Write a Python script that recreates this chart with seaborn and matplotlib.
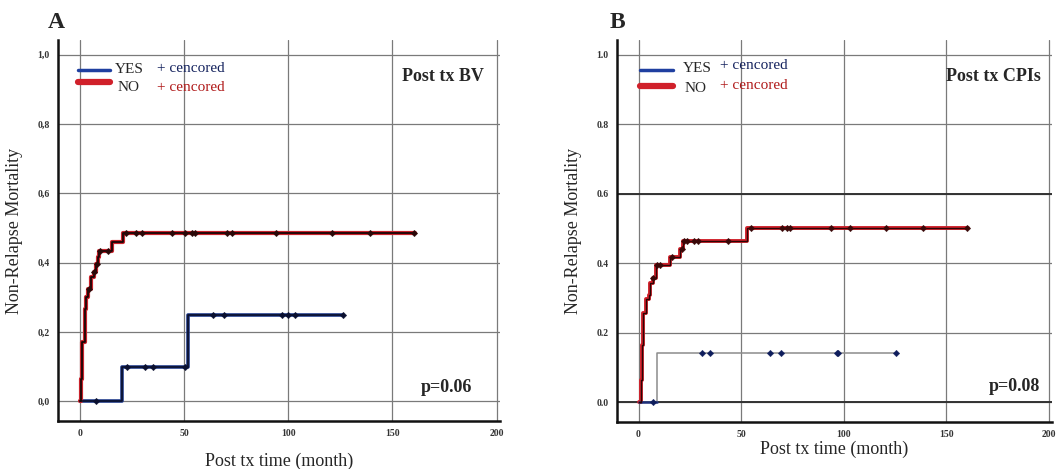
#! /usr/bin/env python
# Non-relapse mortality curves, post tx BV (A) and post tx CPIs (B)
import matplotlib
matplotlib.use('Agg')
from matplotlib import rcParams
import matplotlib.pyplot as plt
import numpy as np
import pandas as pd
import seaborn as sns

sns.set_style("ticks")
rcParams['font.family'] = ['Liberation Serif', 'DejaVu Serif']

# DATA -----------------------------------------------------------------
# panel A, post tx BV
a_no_t = [0, 0.4, 1.2, 2.3, 3.1, 3.9, 5.5, 6.6, 7.9, 8.7, 9.4, 15.2, 20.5, 161]
a_no_y = [0, 0.065, 0.17, 0.267, 0.30, 0.325, 0.358, 0.373, 0.397, 0.416, 0.435, 0.459, 0.486, 0.486]
a_no_cens = [4.3, 6.7, 8.3, 9.6, 13.6, 22, 27, 29.6, 44.3, 50.4, 53.6, 55.2, 70.4, 73, 94, 121, 139, 160.5]
a_yes_t = [0, 20.3, 52, 126.3]
a_yes_y = [0, 0.10, 0.25, 0.25]
a_yes_cens = [7.5, 22.4, 31.2, 35.2, 50.4, 64, 69, 97.2, 99.9, 103.1, 126.3]

# panel B, post tx CPIs
b_no_t = [0, 1.2, 1.6, 2.4, 3.7, 4.9, 5.7, 7.0, 8.6, 15.4, 20.3, 21.9, 52.7, 160.6]
b_no_y = [0, 0.065, 0.164, 0.258, 0.296, 0.31, 0.344, 0.358, 0.395, 0.417, 0.44, 0.464, 0.503, 0.503]
b_no_cens = [7.3, 8.9, 10.5, 16.2, 21, 22.4, 23.5, 27, 29.2, 43.8, 54.8, 69.7, 72.2, 73.8, 94, 103, 120.8, 138.7, 160.2]
b_yes_t = [0, 8.9, 125.7]
b_yes_y = [0, 0.143, 0.143]
b_yes_cens = [7.3, 30.8, 34.9, 64.1, 69.3, 96.5, 97.3, 125.7]

xticks = [0, 50, 100, 150, 200]
yticks = [0.0, 0.2, 0.4, 0.6, 0.8, 1.0]


def step_at(ts, ys, t):
    idx = np.searchsorted(np.array(ts), np.array(t), side='right') - 1
    return np.array(ys)[idx]


def km(ax, ts, ys, cens, under, over, lw_under, lw_over, mcol):
    df = pd.DataFrame({'t': ts, 'y': ys})
    sns.lineplot(data=df, x='t', y='y', ax=ax, color=under, lw=lw_under,
                 drawstyle='steps-post', estimator=None, zorder=3)
    if over is not None:
        sns.lineplot(data=df, x='t', y='y', ax=ax, color=over, lw=lw_over,
                     drawstyle='steps-post', estimator=None, zorder=4)
    cdf = pd.DataFrame({'t': cens, 'y': step_at(ts, ys, cens)})
    sns.scatterplot(data=cdf, x='t', y='y', ax=ax, marker='D', s=11,
                    color=mcol, edgecolor=mcol, zorder=5)


def frame(ax, ylabels, title, ptext, tpos, ppos, xpad, dark_rows=()):
    ax.set_xlim(-10.5, 201.5)
    ax.set_ylim(-0.057, 1.043)
    ax.set_xticks(xticks)
    ax.set_yticks(yticks)
    ax.set_xticklabels([str(v) for v in xticks], fontsize=7, fontweight='bold', color='#333')
    ax.set_yticklabels(ylabels, fontsize=7, fontweight='bold', color='#333')
    ax.tick_params(length=0, pad=6)
    ax.grid(True, color='#7a7a7a', lw=0.9)
    for v in dark_rows:
        ax.axhline(v, color='#333333', lw=1.4, zorder=1)
    for s in ['top', 'right']:
        ax.spines[s].set_visible(False)
    for s in ['left', 'bottom']:
        ax.spines[s].set_linewidth(1.8)
        ax.spines[s].set_color('#111')
    ax.set_xlabel('Post tx time (month)', fontsize=13, labelpad=xpad)
    ax.set_ylabel('Non-Relapse Mortality', fontsize=13, labelpad=10)
    ax.text(tpos[0], tpos[1], title, transform=ax.transAxes, fontsize=13,
            fontweight='bold', ha='right', va='center')
    ax.text(ppos[0], ppos[1], ptext, transform=ax.transAxes, fontsize=13,
            fontweight='bold', ha='right', va='center')


fig = plt.figure(figsize=(10.61, 4.69), dpi=100)
axA = fig.add_axes([0.0547, 0.102, 0.4163, 0.813])
axB = fig.add_axes([0.5815, 0.100, 0.410, 0.815])

# panel A
km(axA, a_yes_t, a_yes_y, a_yes_cens, '#1f3a8a', '#0a0f2a', 2.6, 1.2, '#0a1030')
km(axA, a_no_t, a_no_y, a_no_cens, '#c8232c', '#1a0505', 3.0, 1.3, '#2a0808')
frame(axA, ['0,0', '0,2', '0,4', '0,6', '0,8', '1,0'], 'Post tx BV', 'p=0.06',
      (0.965, 0.905), (0.937, 0.087), 10)

# panel B
km(axB, b_yes_t, b_yes_y, b_yes_cens, '#8c8c8c', None, 1.1, 0, '#0e1d5c')
sns.lineplot(x=b_yes_t[:2], y=b_yes_y[:1] * 2, ax=axB, color='#1d2f7a', lw=1.8, zorder=4)
km(axB, b_no_t, b_no_y, b_no_cens, '#d0202a', '#2a0505', 2.8, 1.0, '#3a0808')
frame(axB, ['0.0', '0.2', '0.4', '0.6', '0.8', '1.0'], 'Post tx CPIs', 'p=0.08',
      (0.975, 0.905), (0.972, 0.092), 1, dark_rows=(0.0, 0.6))

# panel letters
fig.text(48 / 1061, 1 - 28 / 469, 'A', fontsize=17, fontweight='bold')
fig.text(610 / 1061, 1 - 28 / 469, 'B', fontsize=17, fontweight='bold')

# hand-made legends (line swatch + label + censored note)
legend_pos = {
    'A': dict(ax=axA, line=(0.045, 0.118), yes=(0.129, 0.921), no=(0.134, 0.874),
              cens=0.224, cy=(0.926, 0.874), ly=(0.921, 0.89)),
    'B': dict(ax=axB, line=(0.053, 0.129), yes=(0.152, 0.925), no=(0.156, 0.874),
              cens=0.237, cy=(0.932, 0.88), ly=(0.921, 0.88)),
}
for p in legend_pos.values():
    ax = p['ax']
    ax.plot(p['line'], [p['ly'][0]] * 2, transform=ax.transAxes, color='#1f3fa0', lw=2.5)
    ax.plot(p['line'], [p['ly'][1]] * 2, transform=ax.transAxes, color='#d0202a', lw=4.5)
    ax.text(p['yes'][0], p['yes'][1], 'YES', transform=ax.transAxes, fontsize=11, va='center')
    ax.text(p['no'][0], p['no'][1], 'NO', transform=ax.transAxes, fontsize=11, va='center')
    ax.text(p['cens'], p['cy'][0], '+ cencored', transform=ax.transAxes,
            fontsize=11, color='#15235e', va='center')
    ax.text(p['cens'], p['cy'][1], '+ cencored', transform=ax.transAxes,
            fontsize=11, color='#b01a1a', va='center')

fig.savefig('out.png', dpi=100)
plt.close()
